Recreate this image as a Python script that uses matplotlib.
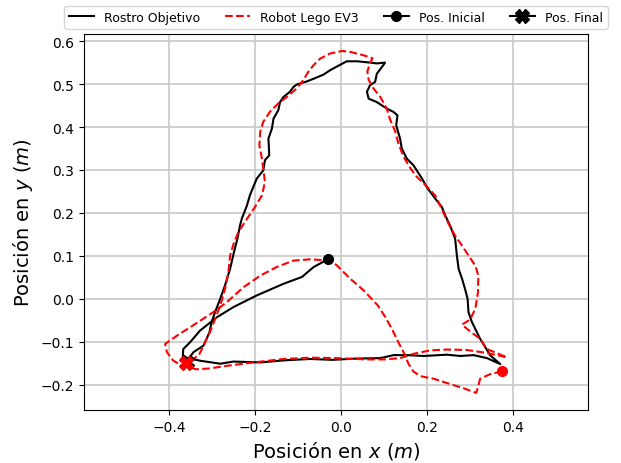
import numpy as np
import matplotlib
matplotlib.use('Agg')
import matplotlib.pyplot as plt

# trayectoria del rostro (camara)
rostro_x = [-0.031, -0.064, -0.091, -0.134, -0.196, -0.250, -0.289, -0.328, -0.351, -0.367,
            -0.368, -0.355, -0.328, -0.281, -0.250, -0.188, -0.130, -0.072, -0.020, 0.036,
            0.091, 0.122, 0.153, 0.192, 0.246, 0.277, 0.308, 0.339, 0.370,
            0.347, 0.323, 0.304, 0.296, 0.294, 0.288, 0.281, 0.273, 0.269, 0.265, 0.253,
            0.242, 0.234, 0.219, 0.199, 0.188, 0.168, 0.153, 0.141, 0.137, 0.128, 0.131,
            0.122, 0.106, 0.083, 0.064, 0.060, 0.067, 0.079, 0.083, 0.098, 0.102,
            0.083, 0.067, 0.037, 0.013, -0.002, -0.026, -0.041, -0.060, -0.080, -0.103,
            -0.111, -0.119, -0.134, -0.142, -0.146, -0.157, -0.161, -0.169, -0.167, -0.177,
            -0.181, -0.196, -0.204, -0.212, -0.219, -0.231, -0.235, -0.241, -0.249, -0.258,
            -0.270, -0.281, -0.293, -0.301, -0.306, -0.320, -0.343, -0.355, -0.359]
rostro_y = [0.092, 0.074, 0.051, 0.035, 0.008, -0.019, -0.043, -0.074, -0.101, -0.117,
            -0.135, -0.138, -0.144, -0.151, -0.146, -0.148, -0.143, -0.140, -0.142, -0.139,
            -0.138, -0.131, -0.131, -0.133, -0.130, -0.133, -0.131, -0.138, -0.152,
            -0.132, -0.093, -0.054, -0.031, 0.000, 0.023, 0.047, 0.070, 0.101, 0.140, 0.171,
            0.194, 0.214, 0.233, 0.260, 0.280, 0.311, 0.326, 0.350, 0.373, 0.404, 0.427,
            0.435, 0.443, 0.458, 0.466, 0.482, 0.497, 0.505, 0.524, 0.544, 0.550,
            0.548, 0.550, 0.553, 0.553, 0.545, 0.532, 0.522, 0.514, 0.506, 0.499,
            0.493, 0.482, 0.470, 0.458, 0.439, 0.420, 0.396, 0.373, 0.334, 0.323,
            0.299, 0.280, 0.261, 0.241, 0.217, 0.186, 0.171, 0.140, 0.109, 0.070,
            0.031, 0.000, -0.031, -0.054, -0.078, -0.109, -0.124, -0.140, -0.148]

# trayectoria del robot
robot_x = [0.374, 0.347, 0.323, 0.319, 0.314, 0.284, 0.246, 0.215, 0.184, 0.168, 0.157,
           0.145, 0.133, 0.118, 0.103, 0.085, 0.052, 0.021, -0.010, -0.026,
           -0.072, -0.111, -0.150, -0.188, -0.227, -0.266, -0.297, -0.343, -0.382, -0.409,
           -0.405, -0.390, -0.367, -0.336, -0.305, -0.274, -0.212, -0.134, -0.072, -0.010,
           0.060, 0.100, 0.137, 0.168, 0.207, 0.246, 0.292, 0.339, 0.385,
           0.339, 0.323, 0.300, 0.281, 0.300, 0.312, 0.318, 0.319, 0.312, 0.296, 0.281,
           0.265, 0.250, 0.234, 0.219, 0.199, 0.176, 0.161, 0.145, 0.133, 0.126, 0.114,
           0.106, 0.091, 0.075, 0.064, 0.061, 0.067, 0.073,
           0.052, 0.021, 0.002, -0.026, -0.049, -0.064, -0.076, -0.088, -0.103, -0.126,
           -0.146, -0.165, -0.181, -0.188, -0.190, -0.184, -0.181, -0.177, -0.184, -0.200,
           -0.219, -0.239, -0.250, -0.258, -0.262, -0.270, -0.281, -0.293, -0.305, -0.320,
           -0.331, -0.351, -0.361]
robot_y = [-0.169, -0.175, -0.186, -0.202, -0.219, -0.208, -0.196, -0.186, -0.180, -0.169,
           -0.152, -0.124, -0.101, -0.070, -0.043, -0.015, 0.020, 0.047, 0.078, 0.089,
           0.092, 0.089, 0.074, 0.054, 0.027, -0.008, -0.031, -0.061, -0.086, -0.105,
           -0.124, -0.144, -0.157, -0.164, -0.162, -0.157, -0.149, -0.140, -0.137, -0.138,
           -0.141, -0.141, -0.138, -0.128, -0.120, -0.118, -0.119, -0.126, -0.136,
           -0.117, -0.093, -0.076, -0.060, -0.048, -0.023, 0.015, 0.054, 0.077, 0.101,
           0.124, 0.147, 0.174, 0.209, 0.240, 0.262, 0.284, 0.304, 0.331, 0.362, 0.389,
           0.417, 0.443, 0.470, 0.490, 0.510, 0.529, 0.548, 0.560,
           0.567, 0.575, 0.577, 0.571, 0.559, 0.544, 0.529, 0.509, 0.490, 0.470,
           0.455, 0.436, 0.412, 0.389, 0.357, 0.326, 0.303, 0.272, 0.241, 0.214,
           0.186, 0.155, 0.128, 0.101, 0.062, 0.023, -0.016, -0.047, -0.078, -0.109,
           -0.132, -0.144, -0.150]

fig = plt.figure(figsize=(6.21, 4.64), dpi=100)
ax = fig.add_axes([0.135, 0.114, 0.812, 0.811])

ax.plot(rostro_x, rostro_y, 'k-', lw=1.5, label='Rostro Objetivo')
ax.plot(robot_x, robot_y, 'r--', lw=1.5, label='Robot Lego EV3')
ax.plot(rostro_x[0], rostro_y[0], marker='o', color='k', ms=7, label='Pos. Inicial')
ax.plot(rostro_x[-1], rostro_y[-1], marker='X', color='k', ms=10, label='Pos. Final')
ax.plot(robot_x[0], robot_y[0], marker='o', color='r', ms=7)
ax.plot(robot_x[-1], robot_y[-1], marker='X', color='r', ms=10)

ax.set_xlim(-0.598, 0.574)
ax.set_ylim(-0.259, 0.617)
ax.set_xticks([-0.4, -0.2, 0.0, 0.2, 0.4])
ax.set_yticks(np.arange(-0.2, 0.61, 0.1))
ax.grid(True, color='#c8c8c8', lw=1.2)
ax.set_axisbelow(True)

ax.set_xlabel('Posición en $x$ $(m)$', fontsize=14)
ax.set_ylabel('Posición en $y$ $(m)$', fontsize=14)
ax.legend(loc='lower center', bbox_to_anchor=(0.5, 1.0), ncol=4, fontsize=9,
          borderaxespad=0.4, columnspacing=2.0)

fig.savefig('out.png', dpi=100)
